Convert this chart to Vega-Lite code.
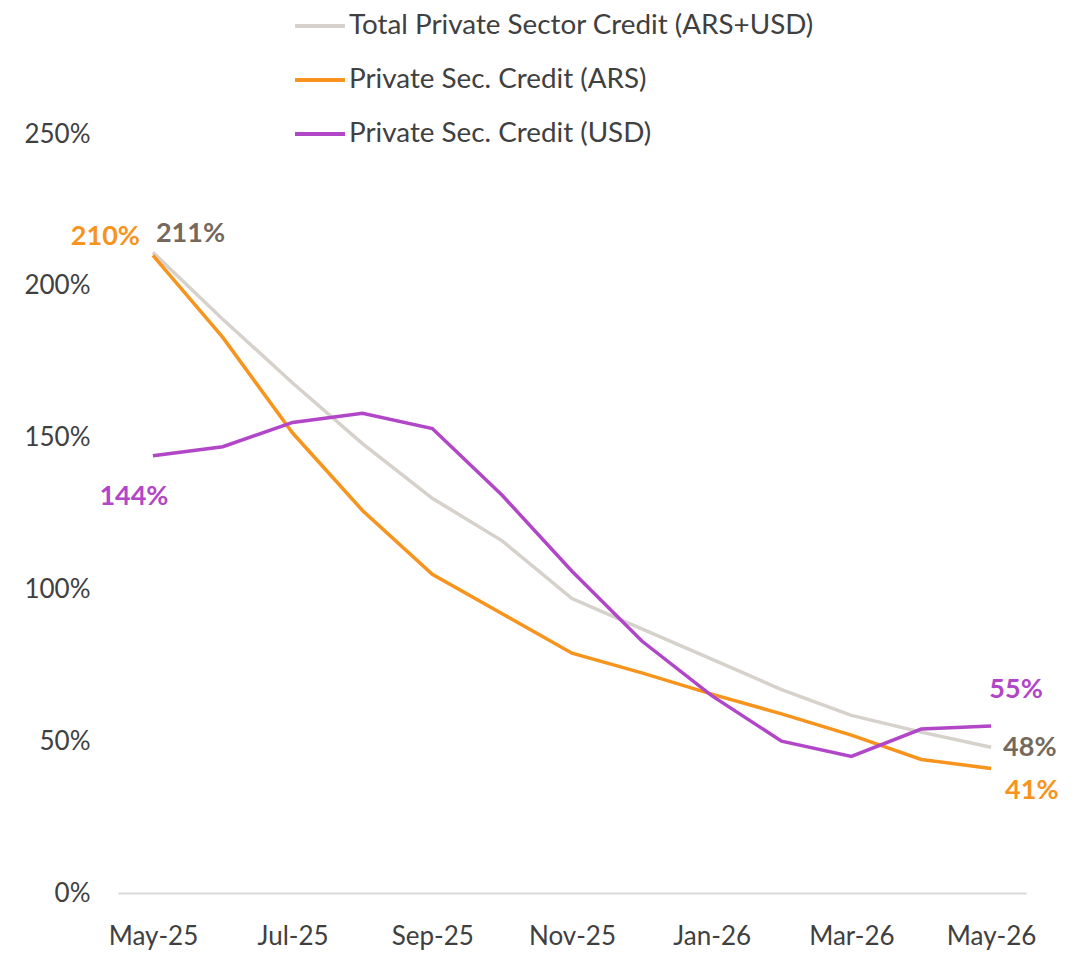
{
  "$schema": "https://vega.github.io/schema/vega-lite/v6.json",
  "width": 908,
  "height": 759,
  "autosize": {"type": "none"},
  "padding": {"left": 118, "top": 134, "right": 63, "bottom": 61},
  "background": "white",
  "config": {
    "font": "Lato",
    "view": {"stroke": null},
    "axis": {"labelFont": "Lato", "labelColor": "#404040", "labelFontSize": 26, "grid": false, "ticks": false, "title": null}
  },
  "data": {"values": [
    {"month": "May-25", "series": "Total Private Sector Credit (ARS+USD)", "value": 2.11},
    {"month": "Jun-25", "series": "Total Private Sector Credit (ARS+USD)", "value": 1.89},
    {"month": "Jul-25", "series": "Total Private Sector Credit (ARS+USD)", "value": 1.68},
    {"month": "Aug-25", "series": "Total Private Sector Credit (ARS+USD)", "value": 1.48},
    {"month": "Sep-25", "series": "Total Private Sector Credit (ARS+USD)", "value": 1.30},
    {"month": "Oct-25", "series": "Total Private Sector Credit (ARS+USD)", "value": 1.16},
    {"month": "Nov-25", "series": "Total Private Sector Credit (ARS+USD)", "value": 0.97},
    {"month": "Dec-25", "series": "Total Private Sector Credit (ARS+USD)", "value": 0.87},
    {"month": "Jan-26", "series": "Total Private Sector Credit (ARS+USD)", "value": 0.77},
    {"month": "Feb-26", "series": "Total Private Sector Credit (ARS+USD)", "value": 0.67},
    {"month": "Mar-26", "series": "Total Private Sector Credit (ARS+USD)", "value": 0.585},
    {"month": "Apr-26", "series": "Total Private Sector Credit (ARS+USD)", "value": 0.53},
    {"month": "May-26", "series": "Total Private Sector Credit (ARS+USD)", "value": 0.48},
    {"month": "May-25", "series": "Private Sec. Credit (ARS)", "value": 2.10},
    {"month": "Jun-25", "series": "Private Sec. Credit (ARS)", "value": 1.83},
    {"month": "Jul-25", "series": "Private Sec. Credit (ARS)", "value": 1.515},
    {"month": "Aug-25", "series": "Private Sec. Credit (ARS)", "value": 1.26},
    {"month": "Sep-25", "series": "Private Sec. Credit (ARS)", "value": 1.05},
    {"month": "Oct-25", "series": "Private Sec. Credit (ARS)", "value": 0.92},
    {"month": "Nov-25", "series": "Private Sec. Credit (ARS)", "value": 0.79},
    {"month": "Dec-25", "series": "Private Sec. Credit (ARS)", "value": 0.725},
    {"month": "Jan-26", "series": "Private Sec. Credit (ARS)", "value": 0.655},
    {"month": "Feb-26", "series": "Private Sec. Credit (ARS)", "value": 0.59},
    {"month": "Mar-26", "series": "Private Sec. Credit (ARS)", "value": 0.52},
    {"month": "Apr-26", "series": "Private Sec. Credit (ARS)", "value": 0.44},
    {"month": "May-26", "series": "Private Sec. Credit (ARS)", "value": 0.41},
    {"month": "May-25", "series": "Private Sec. Credit (USD)", "value": 1.44},
    {"month": "Jun-25", "series": "Private Sec. Credit (USD)", "value": 1.47},
    {"month": "Jul-25", "series": "Private Sec. Credit (USD)", "value": 1.55},
    {"month": "Aug-25", "series": "Private Sec. Credit (USD)", "value": 1.58},
    {"month": "Sep-25", "series": "Private Sec. Credit (USD)", "value": 1.53},
    {"month": "Oct-25", "series": "Private Sec. Credit (USD)", "value": 1.31},
    {"month": "Nov-25", "series": "Private Sec. Credit (USD)", "value": 1.06},
    {"month": "Dec-25", "series": "Private Sec. Credit (USD)", "value": 0.83},
    {"month": "Jan-26", "series": "Private Sec. Credit (USD)", "value": 0.65},
    {"month": "Feb-26", "series": "Private Sec. Credit (USD)", "value": 0.50},
    {"month": "Mar-26", "series": "Private Sec. Credit (USD)", "value": 0.45},
    {"month": "Apr-26", "series": "Private Sec. Credit (USD)", "value": 0.54},
    {"month": "May-26", "series": "Private Sec. Credit (USD)", "value": 0.55}
  ]},
  "encoding": {
    "x": {
      "field": "month", "type": "ordinal",
      "sort": ["May-25","Jun-25","Jul-25","Aug-25","Sep-25","Oct-25","Nov-25","Dec-25","Jan-26","Feb-26","Mar-26","Apr-26","May-26"],
      "scale": {"type": "point", "padding": 0.5},
      "axis": {"values": ["May-25","Jul-25","Sep-25","Nov-25","Jan-26","Mar-26","May-26"], "labelAngle": 0, "labelPadding": 30, "domainColor": "#D9D9D9", "domainWidth": 2}
    },
    "y": {
      "field": "value", "type": "quantitative",
      "scale": {"domain": [0, 2.5]},
      "axis": {"values": [0, 0.5, 1, 1.5, 2, 2.5], "format": ".0%", "domain": false, "labelPadding": 28}
    }
  },
  "layer": [
    {
      "mark": {"type": "line", "strokeWidth": 3.5},
      "encoding": {
        "color": {
          "field": "series", "type": "nominal",
          "sort": ["Total Private Sector Credit (ARS+USD)", "Private Sec. Credit (ARS)", "Private Sec. Credit (USD)"],
          "scale": {"domain": ["Total Private Sector Credit (ARS+USD)", "Private Sec. Credit (ARS)", "Private Sec. Credit (USD)"], "range": ["#D6D1CB", "#F7941D", "#B146C8"]},
          "legend": {
            "title": null, "orient": "none", "legendX": 175, "legendY": -135, "direction": "vertical",
            "symbolType": "stroke", "symbolSize": 2500, "symbolStrokeWidth": 4,
            "labelFont": "Lato", "labelFontSize": 27.8, "labelColor": "#404040", "labelOffset": 2,
            "rowPadding": 13, "padding": 0, "labelLimit": 800
          }
        }
      }
    },
    {
      "transform": [{"filter": "datum.series === 'Private Sec. Credit (ARS)' && datum.month === 'May-25'"}],
      "mark": {"type": "text", "font": "Lato", "fontWeight": "bold", "fontSize": 27, "color": "#F7941D", "align": "right", "baseline": "middle", "dx": -13, "dy": -18},
      "encoding": {"text": {"field": "value", "type": "quantitative", "format": ".0%"}}
    },
    {
      "transform": [{"filter": "datum.series === 'Total Private Sector Credit (ARS+USD)' && datum.month === 'May-25'"}],
      "mark": {"type": "text", "font": "Lato", "fontWeight": "bold", "fontSize": 27, "color": "#76695C", "align": "left", "baseline": "middle", "dx": 3, "dy": -18},
      "encoding": {"text": {"field": "value", "type": "quantitative", "format": ".0%"}}
    },
    {
      "transform": [{"filter": "datum.series === 'Private Sec. Credit (USD)' && datum.month === 'May-25'"}],
      "mark": {"type": "text", "font": "Lato", "fontWeight": "bold", "fontSize": 27, "color": "#B146C8", "align": "center", "baseline": "middle", "dx": -19, "dy": 41},
      "encoding": {"text": {"field": "value", "type": "quantitative", "format": ".0%"}}
    },
    {
      "transform": [{"filter": "datum.series === 'Private Sec. Credit (USD)' && datum.month === 'May-26'"}],
      "mark": {"type": "text", "font": "Lato", "fontWeight": "bold", "fontSize": 27, "color": "#B146C8", "align": "center", "baseline": "middle", "dx": 25, "dy": -36},
      "encoding": {"text": {"field": "value", "type": "quantitative", "format": ".0%"}}
    },
    {
      "transform": [{"filter": "datum.series === 'Total Private Sector Credit (ARS+USD)' && datum.month === 'May-26'"}],
      "mark": {"type": "text", "font": "Lato", "fontWeight": "bold", "fontSize": 27, "color": "#76695C", "align": "left", "baseline": "middle", "dx": 12, "dy": 1},
      "encoding": {"text": {"field": "value", "type": "quantitative", "format": ".0%"}}
    },
    {
      "transform": [{"filter": "datum.series === 'Private Sec. Credit (ARS)' && datum.month === 'May-26'"}],
      "mark": {"type": "text", "font": "Lato", "fontWeight": "bold", "fontSize": 27, "color": "#F7941D", "align": "left", "baseline": "middle", "dx": 14, "dy": 22},
      "encoding": {"text": {"field": "value", "type": "quantitative", "format": ".0%"}}
    }
  ]
}
